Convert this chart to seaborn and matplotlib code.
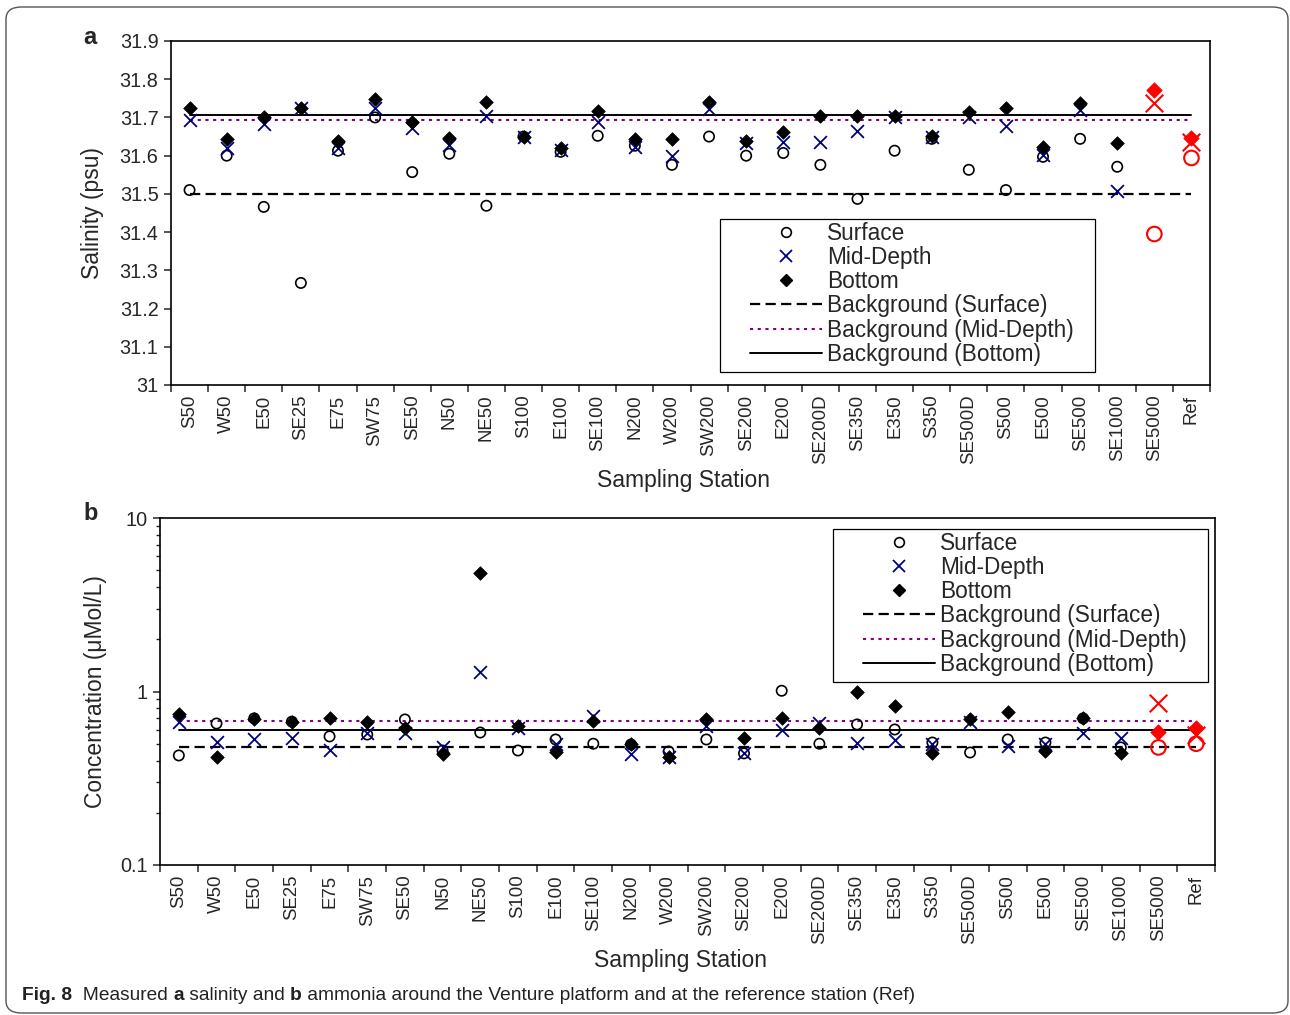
import numpy as np
import pandas as pd
import matplotlib
matplotlib.use("Agg")
import matplotlib.pyplot as plt
from matplotlib.lines import Line2D
from matplotlib.patches import FancyBboxPatch, Rectangle
from matplotlib.ticker import FixedLocator, NullFormatter, FuncFormatter
import seaborn as sns

stations = ["S50", "W50", "E50", "SE25", "E75", "SW75", "SE50", "N50", "NE50", "S100",
            "E100", "SE100", "N200", "W200", "SW200", "SE200", "E200", "SE200D", "SE350",
            "E350", "S350", "SE500D", "S500", "E500", "SE500", "SE1000", "SE5000", "Ref"]
red_stations = ["SE5000", "Ref"]

# salinity (psu)
sal_surface = [31.51, 31.60, 31.466, 31.267, 31.613, 31.70, 31.557, 31.605, 31.469, 31.65,
               31.61, 31.652, 31.626, 31.576, 31.65, 31.60, 31.607, 31.576, 31.487, 31.613,
               31.644, 31.563, 31.51, 31.597, 31.644, 31.571, 31.395, 31.594]
sal_mid = [31.694, 31.62, 31.683, 31.725, 31.62, 31.725, 31.673, 31.628, 31.704, 31.648,
           31.615, 31.689, 31.623, 31.60, 31.722, 31.633, 31.636, 31.636, 31.665, 31.70,
           31.649, 31.70, 31.678, 31.602, 31.72, 31.508, 31.738, 31.636]
sal_bottom = [31.725, 31.644, 31.70, 31.725, 31.639, 31.749, 31.689, 31.647, 31.741, 31.649,
              31.62, 31.717, 31.644, 31.644, 31.741, 31.639, 31.662, 31.704, 31.704, 31.704,
              31.652, 31.715, 31.725, 31.623, 31.738, 31.633, 31.772, 31.646]
sal_bg = {"Surface": 31.50, "Mid-Depth": 31.694, "Bottom": 31.707}

# ammonia (uMol/L)
nh_surface = [0.428, 0.654, 0.70, 0.67, 0.551, 0.565, 0.69, 0.457, 0.58, 0.457, 0.529, 0.50,
              0.495, 0.451, 0.529, 0.44, 1.01, 0.50, 0.646, 0.604, 0.508, 0.445, 0.529, 0.508,
              0.70, 0.476, 0.476, 0.50]
nh_mid = [0.671, 0.515, 0.529, 0.543, 0.463, 0.58, 0.58, 0.476, 1.30, 0.62, 0.50, 0.727,
          0.434, 0.417, 0.63, 0.44, 0.596, 0.654, 0.508, 0.522, 0.495, 0.671, 0.482, 0.495,
          0.58, 0.543, 0.853, 0.565]
nh_bottom = [0.737, 0.417, 0.69, 0.663, 0.708, 0.671, 0.612, 0.434, 4.79, 0.63, 0.451, 0.68,
             0.495, 0.417, 0.69, 0.543, 0.708, 0.62, 1.00, 0.83, 0.445, 0.69, 0.757, 0.457,
             0.708, 0.445, 0.588, 0.612]
nh_bg = {"Surface": 0.476, "Mid-Depth": 0.68, "Bottom": 0.596}

sal_ticks = [31.0, 31.1, 31.2, 31.3, 31.4, 31.5, 31.6, 31.7, 31.8, 31.9]

sns.set_style("white")
plt.rcParams["font.family"] = ["Liberation Sans", "DejaVu Sans"]
plt.rcParams["axes.linewidth"] = 1.2

NAVY = "#000080"
PURPLE = "#800080"
W, H = 1290, 1015

fig = plt.figure(figsize=(12.9, 10.15), dpi=100)
ax_a = fig.add_axes([171 / W, 1 - 385 / H, 1039 / W, 344 / H])
ax_b = fig.add_axes([160 / W, 1 - 865 / H, 1055 / W, 347 / H])


def make_frame(surface, mid, bottom):
    df = pd.DataFrame({"station": stations, "pos": np.arange(len(stations)),
                       "Surface": surface, "Mid-Depth": mid, "Bottom": bottom})
    df["ref"] = df["station"].isin(red_stations)
    return df


def draw_panel(ax, df, bg):
    norm = df[~df["ref"]]
    red = df[df["ref"]]
    sns.scatterplot(data=norm, x="pos", y="Surface", ax=ax, marker="o", s=55,
                    facecolor="none", edgecolor="black", linewidth=1.2, zorder=3)
    sns.scatterplot(data=norm, x="pos", y="Mid-Depth", ax=ax, marker="x", s=85,
                    color=NAVY, linewidth=1.3, zorder=4)
    sns.scatterplot(data=norm, x="pos", y="Bottom", ax=ax, marker="D", s=48,
                    color="black", edgecolor="black", linewidth=0.5, zorder=5)
    sns.scatterplot(data=red, x="pos", y="Surface", ax=ax, marker="o", s=110,
                    facecolor="none", edgecolor="red", linewidth=1.5, zorder=3)
    sns.scatterplot(data=red, x="pos", y="Mid-Depth", ax=ax, marker="x", s=160,
                    color="red", linewidth=1.5, zorder=4)
    sns.scatterplot(data=red, x="pos", y="Bottom", ax=ax, marker="D", s=62,
                    color="red", edgecolor="red", linewidth=0.5, zorder=5)
    x0, x1 = df["pos"].iloc[0], df["pos"].iloc[-1]
    ax.plot([x0, x1], [bg["Surface"]] * 2, color="black", lw=1.6, dashes=(4.6, 2.4), zorder=2)
    ax.plot([x0, x1], [bg["Mid-Depth"]] * 2, color=PURPLE, lw=1.5, dashes=(1.5, 2.2), zorder=2)
    ax.plot([x0, x1], [bg["Bottom"]] * 2, color="black", lw=1.4, zorder=2)

    ax.set_xlim(-0.5, len(stations) - 0.5)
    ax.set_xticks(df["pos"])
    ax.set_xticklabels(stations, rotation=90, fontsize=13.4)
    ax.xaxis.set_minor_locator(FixedLocator(np.arange(-0.5, len(stations), 1.0)))
    ax.tick_params(axis="x", which="major", length=0, pad=7)
    ax.tick_params(axis="x", which="minor", length=5, width=1.1, direction="out", bottom=True)
    ax.tick_params(axis="y", which="both", direction="out", left=True, width=1.1, labelsize=14.3)
    ax.tick_params(axis="y", which="major", length=5, pad=4)
    ax.set_xlabel("Sampling Station", fontsize=16.5, labelpad=3)
    ax.xaxis.label.set_x(0.493)
    for sp in ax.spines.values():
        sp.set_color("black")
        sp.set_visible(True)

    handles = [
        Line2D([], [], ls="none", marker="o", ms=7, mfc="none", mec="black", mew=1.2),
        Line2D([], [], ls="none", marker="x", ms=9, color=NAVY, mew=1.3),
        Line2D([], [], ls="none", marker="D", ms=6.5, color="black"),
        Line2D([], [], color="black", lw=1.6, dashes=(4.6, 2.4)),
        Line2D([], [], color=PURPLE, lw=1.5, dashes=(1.5, 2.2)),
        Line2D([], [], color="black", lw=1.4),
    ]
    labels = ["Surface", "Mid-Depth", "Bottom", "Background (Surface)",
              "Background (Mid-Depth)", "Background (Bottom)"]
    return handles, labels


def add_legend(ax, handles, labels, box_px):
    # box_px: left, top, right, bottom of the legend frame in figure pixels
    l, t, r, b = box_px
    leg = ax.legend(handles, labels, loc="upper left",
                    bbox_to_anchor=((l + 30) / W, 1 - (t + 3) / H),
                    bbox_transform=fig.transFigure, fontsize=16.3, frameon=False,
                    handlelength=3.18, handletextpad=0.22, labelspacing=0.05,
                    borderpad=0, borderaxespad=0)
    fig.patches.append(Rectangle((l / W, 1 - b / H), (r - l) / W, (b - t) / H,
                                 transform=fig.transFigure, fill=False,
                                 edgecolor="black", linewidth=0.9, zorder=5))
    return leg


df_a = make_frame(sal_surface, sal_mid, sal_bottom)
h, l = draw_panel(ax_a, df_a, sal_bg)
ax_a.set_ylim(31.0, 31.9)
ax_a.set_yticks(sal_ticks)
ax_a.yaxis.set_major_formatter(FuncFormatter(lambda v, p: f"{v:g}"))
ax_a.set_ylabel("Salinity (psu)", fontsize=16.5, labelpad=11)
add_legend(ax_a, h, l, (720, 219, 1095, 372))

df_b = make_frame(nh_surface, nh_mid, nh_bottom)
h, l = draw_panel(ax_b, df_b, nh_bg)
ax_b.set_yscale("log")
ax_b.set_ylim(0.1, 10)
ax_b.set_yticks([0.1, 1, 10])
ax_b.yaxis.set_major_formatter(FuncFormatter(lambda v, p: f"{v:g}"))
ax_b.yaxis.set_minor_formatter(NullFormatter())
ax_b.tick_params(axis="y", which="minor", length=3, width=1.0, direction="out", left=True)
ax_b.set_ylabel("Concentration (\u03bcMol/L)", fontsize=16.5, labelpad=9)
add_legend(ax_b, h, l, (833, 529, 1208, 682))

fig.text(90 / W, 1 - 38 / H, "a", fontsize=17, fontweight="bold", ha="center", va="center")
fig.text(91 / W, 1 - 514 / H, "b", fontsize=17, fontweight="bold", ha="center", va="center")

# outer rounded frame
frame = FancyBboxPatch((6 / W, 2 / H), 1282 / W, 1006 / H,
                       boxstyle="round,pad=0,rounding_size=0.012", transform=fig.transFigure,
                       fill=False, edgecolor="#555555", linewidth=1.0)
fig.patches.append(frame)

# caption pieces, mixed weight
pieces = [("Fig. 8", "bold"), ("  Measured ", "normal"), ("a", "bold"),
          (" salinity and ", "normal"), ("b", "bold"),
          (" ammonia around the Venture platform and at the reference station (Ref)", "normal")]
fig.canvas.draw()
renderer = fig.canvas.get_renderer()
xpix = 22
for txt, wt in pieces:
    t = fig.text(xpix / W, 1 - 996 / H, txt, fontsize=13.8, fontweight=wt,
                 ha="left", va="center", color="#222222")
    bb = t.get_window_extent(renderer=renderer)
    xpix += bb.width

fig.savefig("out.png", dpi=100)
